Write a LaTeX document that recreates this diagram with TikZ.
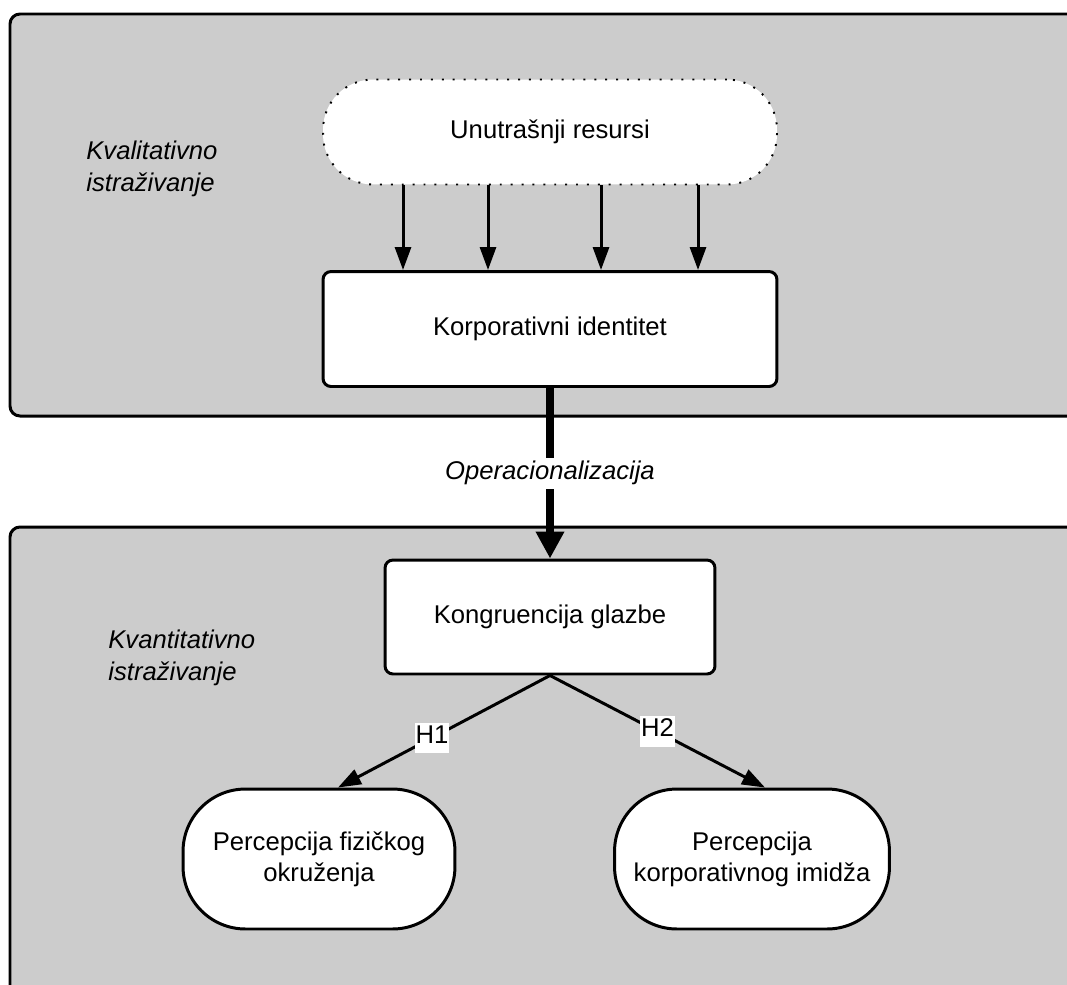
\documentclass[tikz,border=0pt]{standalone}
\usepackage{fontspec}
\setmainfont{Liberation Sans}
\usepackage{tikz}
\usetikzlibrary{calc, positioning, arrows.meta}
\definecolor{xpanel}{HTML}{CCCCCC}
\tikzset{
  panel/.style = {line width=1.7pt, fill=xpanel, rounded corners=0.2cm},
  box/.style = {draw, line width=1.7pt, fill=white, align=center, rounded corners=#1},
  box/.default = 0.16cm,
  link/.style = {line width=1.7pt, -{Triangle[width=0.32cm, length=0.46cm]}},
  hlabel/.style = {fill=white, inner xsep=0.5pt, inner ysep=0pt, text height=0.41cm, text depth=0.2cm},
}
\begin{document}
\begin{tikzpicture}[x=0.02cm, y=-0.02cm, font=\fontsize{14.6}{17.5}\selectfont]
			\useasboundingbox (0,0) rectangle (1067,984);
			\clip (0,0) rectangle (1067,984);

			\draw[panel] (10,14) rectangle (1090,416);
			\draw[panel] (10,527) rectangle (1090,1010);
			\node[anchor=west, inner sep=0, align=left, font=\fontsize{14.6}{18}\selectfont\itshape] (qual) at (86,169) {Kvalitativno\\istraživanje};
			\node[anchor=west, inner sep=0, align=left, font=\fontsize{14.6}{18}\selectfont\itshape] (quant) at (108,658) {Kvantitativno\\istraživanje};

			\node[box=1cm, line width=1.1pt, dash pattern=on 1.1pt off 5.1pt, minimum width=9.08cm, minimum height=2.1cm] (res) at (550,132) {Unutrašnji resursi};
			\node[box, minimum width=9.08cm, minimum height=2.3cm] (kid) at (550,329) {Korporativni identitet};
			\node[box, minimum width=6.6cm, minimum height=2.28cm] (kg) at (550,617) {Kongruencija glazbe};
			\node[box=1.25cm, minimum width=5.44cm, minimum height=2.8cm] (pfo) at (319,859) {Percepcija fizičkog\\okruženja};
			\node[box=1.25cm, minimum width=5.5cm, minimum height=2.8cm] (pki) at (752,859) {Percepcija\\korporativnog imidža};

			\foreach \dx in {-147,-62,51,148}
				\draw[link] ($(res.south)+(\dx,0)$) -- ($(kid.north)+(\dx,0)$);

			\draw[line width=5.1pt, -{Triangle[width=0.54cm, length=0.54cm]}] (kid.south) -- (kg.north)
				node [midway, fill=white, inner sep=2pt, font=\fontsize{14.6}{17.5}\selectfont\itshape] {Operacionalizacija};

			\draw[link] (kg.south) -- ($(pfo.north)+(19,0)$) node [hlabel, pos=0.557] {H1};
			\draw[link] (kg.south) -- ($(pki.north)+(13,0)$) node [hlabel, pos=0.5] {H2};
		\end{tikzpicture}
\end{document}
